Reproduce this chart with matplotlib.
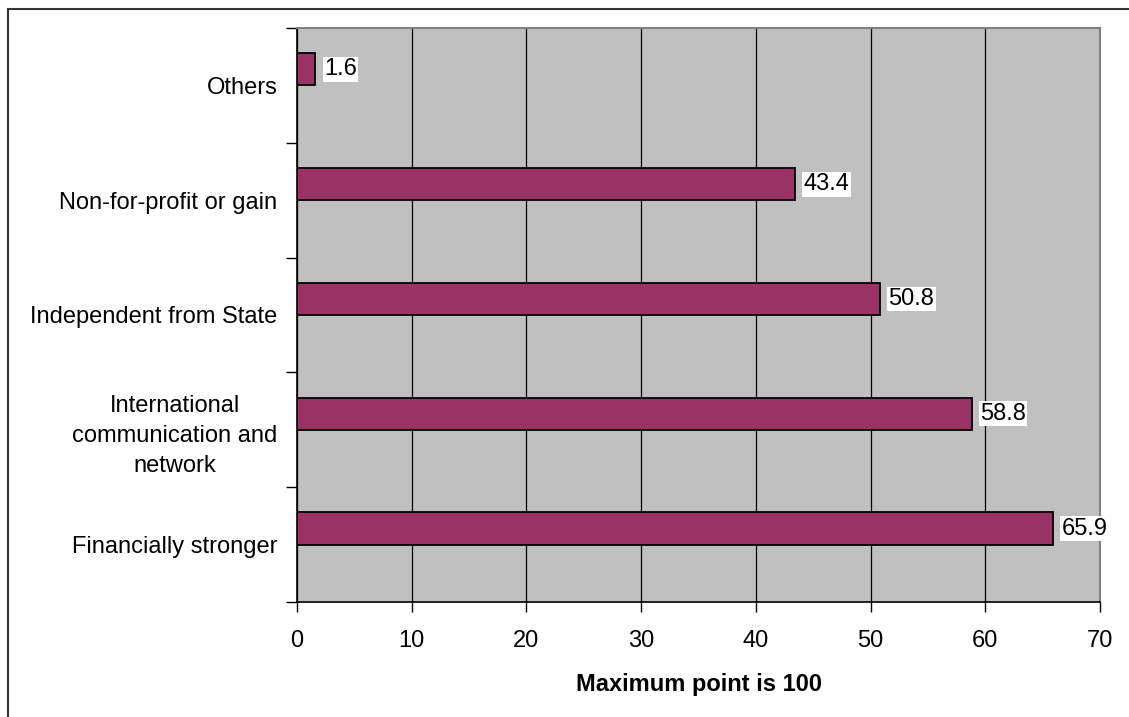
import matplotlib
matplotlib.use("Agg")
import matplotlib.pyplot as plt
from matplotlib.lines import Line2D

plt.rcParams['font.family'] = ['Liberation Sans', 'DejaVu Sans']

# data (bottom to top)
categories = ["Financially stronger", "International\ncommunication and\nnetwork",
              "Independent from State", "Non-for-profit or gain", "Others"]
values = [65.9, 58.8, 50.8, 43.4, 1.6]
xticks = [0, 10, 20, 30, 40, 50, 60, 70]

W, H = 1129, 717
fig = plt.figure(figsize=(W / 100, H / 100), dpi=100)
ax = fig.add_axes([297 / W, 1 - 602 / H, (1100 - 297) / W, (602 - 28) / H])
ax.set_facecolor("#C0C0C0")

ypos = list(range(len(categories)))
bar_h = 0.28
# bars sit just above the category centre (like an Excel clustered bar)
ax.barh(ypos, values, height=bar_h, align="edge", color="#993366",
        edgecolor="black", linewidth=1.3, zorder=3)

for y, v in zip(ypos, values):
    ax.text(v + 0.75, y + bar_h / 2, f"{v:.1f}", va="center", ha="left", fontsize=17, zorder=4,
            bbox=dict(facecolor="white", edgecolor="none", pad=1.0))

ax.set_xlim(0, 70)
ax.set_ylim(-0.5, len(categories) - 0.5)
ax.set_xticks(xticks)
ax.tick_params(axis="x", labelsize=17, length=7, width=1, pad=13, direction="out")

# category labels centered between boundary ticks
ax.set_yticks(ypos)
ax.set_yticklabels(categories, fontsize=17, multialignment="center", linespacing=1.45)
ax.tick_params(axis="y", length=0, pad=14)
ax.set_yticks([i - 0.5 for i in range(len(categories) + 1)], minor=True)
ax.tick_params(axis="y", which="minor", length=8, width=1, direction="out")

ax.grid(axis="x", color="black", linewidth=0.9, zorder=1)
ax.set_axisbelow(True)

ax.spines["left"].set_color("black")
ax.spines["bottom"].set_color("black")
ax.spines["left"].set_linewidth(1.2)
ax.spines["bottom"].set_linewidth(1.2)
ax.spines["top"].set_color("#808080")
ax.spines["right"].set_color("#808080")
ax.spines["top"].set_linewidth(1.5)
ax.spines["right"].set_linewidth(1.5)

ax.set_xlabel("Maximum point is 100", fontsize=17, fontweight="bold", labelpad=15)

# outer chart frame (partially visible)
fig.add_artist(Line2D([8 / W, 8 / W], [0, 1 - 9 / H], color="#333333", linewidth=1.5,
                      transform=fig.transFigure))
fig.add_artist(Line2D([8 / W, 1], [1 - 9 / H, 1 - 9 / H], color="#333333", linewidth=1.5,
                      transform=fig.transFigure))

fig.savefig("out.png", dpi=100)
